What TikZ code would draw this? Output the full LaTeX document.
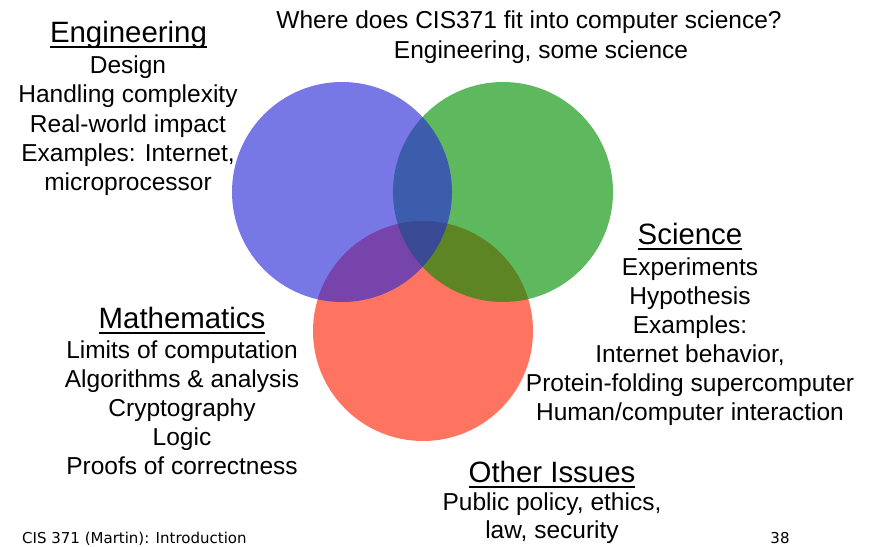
\documentclass[tikz,border=0pt]{standalone}
\usepackage{fontspec}
\setmainfont{Liberation Sans}
\newfontfamily\footfont{DejaVu Sans}
\newcommand\hdul[1]{\sbox0{#1}\rlap{\rule[-5.5pt]{\wd0}{2pt}}\usebox0}
\definecolor{cblue}{RGB}{40,40,216}
\definecolor{cgreen}{RGB}{0,143,0}
\definecolor{cred}{RGB}{255,35,5}
\tikzset{
  venn/.style={fill opacity=0.63, draw=none},
  hdtext/.style={anchor=base, inner sep=0pt, font=\fontsize{29.4}{34}\selectfont},
  bdtext/.style={anchor=base, inner sep=0pt, font=\fontsize{24.5}{29}\selectfont},
  fttext/.style={anchor=base, inner sep=0pt, font=\footfont\fontsize{15}{18}\selectfont},
}
\begin{document}
\begin{tikzpicture}[x=1pt,y=-1pt]
\useasboundingbox[fill=white] (0,0) rectangle (874,546);
% circles
\fill[venn, cred]   (423,331) circle[radius=110];
\fill[venn, cgreen] (503,192) circle[radius=110];
\fill[venn, cblue]  (342,192) circle[radius=110];
% title
\node[bdtext] (t1) at (529,28.5) {Where does CIS371 fit into computer science?};
\node[bdtext] (t2) at (541,58) {Engineering, some science};
% engineering
\node[hdtext] (eh) at (128.5,42) {\hdul{Engineering}};
\node[bdtext] (e1) at (128,73.5) {Design};
\node[bdtext] (e2) at (128,102.8) {Handling complexity};
\node[bdtext] (e3) at (128,132.1) {Real-world impact};
\node[bdtext] (e4) at (128,161.4) {Examples: Internet,};
\node[bdtext] (e5) at (128,190.7) {microprocessor};
% science
\node[hdtext] (sh) at (690,244.5) {\hdul{Science}};
\node[bdtext] (s1) at (690,275.5) {Experiments};
\node[bdtext] (s2) at (690,304.5) {Hypothesis};
\node[bdtext] (s3) at (690,333.5) {Examples:};
\node[bdtext] (s4) at (690,362.5) {Internet behavior,};
\node[bdtext] (s5) at (690,391.5) {Protein-folding supercomputer};
\node[bdtext] (s6) at (690,420.5) {Human/computer interaction};
% mathematics
\node[hdtext] (mh) at (182,328.5) {\hdul{Mathematics}};
\node[bdtext] (m1) at (182,358) {Limits of computation};
\node[bdtext] (m2) at (182,387) {Algorithms \& analysis};
\node[bdtext] (m3) at (182,416) {Cryptography};
\node[bdtext] (m4) at (182,445) {Logic};
\node[bdtext] (m5) at (182,474) {Proofs of correctness};
% other issues
\node[hdtext] (oh) at (552,482.5) {\hdul{Other Issues}};
\node[bdtext] (o1) at (552,510) {Public policy, ethics,};
\node[bdtext] (o2) at (552,538.5) {law, security};
% footer
\node[fttext, anchor=base west] (f1) at (22,543.5) {CIS 371 (Martin): Introduction};
\node[fttext] (f2) at (780,543.5) {38};
\end{tikzpicture}
\end{document}
